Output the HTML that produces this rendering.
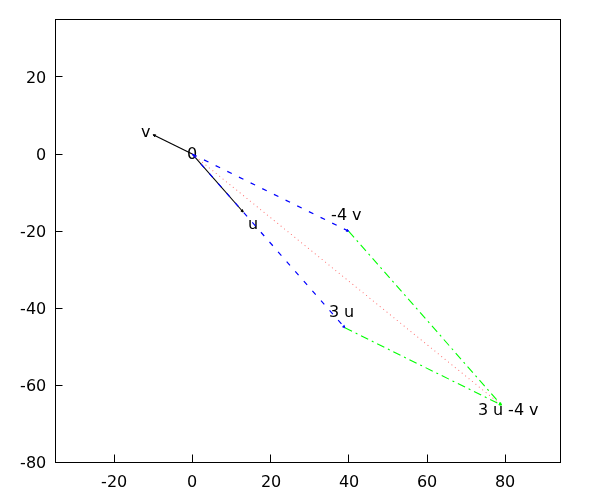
<!DOCTYPE html>
<html><head><meta charset="utf-8"><title>plot</title>
<style>
html,body{margin:0;padding:0;background:#fff;}
svg{display:block;}
text{font-family:"DejaVu Sans","Liberation Sans",sans-serif;font-size:16px;fill:#000;}
</style></head><body>
<svg width="600" height="500" viewBox="0 0 600 500">
<rect x="0" y="0" width="600" height="500" fill="#fff"/>
<rect x="55.5" y="19.5" width="505.0" height="443.0" fill="none" stroke="#000" stroke-width="1"/>
<line x1="114.5" y1="462.5" x2="114.5" y2="454.5" stroke="#000"/>
<text x="101.0 107.0 117.0" y="487">-20</text>
<line x1="192.5" y1="462.5" x2="192.5" y2="454.5" stroke="#000"/>
<text x="187.0" y="487">0</text>
<line x1="270.5" y1="462.5" x2="270.5" y2="454.5" stroke="#000"/>
<text x="261.0 271.0" y="487">20</text>
<line x1="348.5" y1="462.5" x2="348.5" y2="454.5" stroke="#000"/>
<text x="339.0 349.0" y="487">40</text>
<line x1="427.5" y1="462.5" x2="427.5" y2="454.5" stroke="#000"/>
<text x="417.0 427.0" y="487">60</text>
<line x1="505.5" y1="462.5" x2="505.5" y2="454.5" stroke="#000"/>
<text x="495.0 505.0" y="487">80</text>
<line x1="55.5" y1="76.5" x2="62.5" y2="76.5" stroke="#000"/>
<text x="26 36" y="83">20</text>
<line x1="55.5" y1="154.5" x2="62.5" y2="154.5" stroke="#000"/>
<text x="36" y="160">0</text>
<line x1="55.5" y1="231.5" x2="62.5" y2="231.5" stroke="#000"/>
<text x="20 26 36" y="237">-20</text>
<line x1="55.5" y1="308.5" x2="62.5" y2="308.5" stroke="#000"/>
<text x="20 26 36" y="314">-40</text>
<line x1="55.5" y1="385.5" x2="62.5" y2="385.5" stroke="#000"/>
<text x="20 26 36" y="391">-60</text>
<line x1="55.5" y1="462.5" x2="62.5" y2="462.5" stroke="#000"/>
<text x="20 26 36" y="468">-80</text>
<line x1="192.30" y1="154.10" x2="243.16" y2="212.00" stroke="#000" stroke-width="1.08"/>
<polygon points="243.16,212.00 240.88,211.07 242.53,209.62" fill="#000" stroke="#000" stroke-width="0.95" stroke-linejoin="miter"/>
<line x1="192.30" y1="154.10" x2="153.18" y2="134.80" stroke="#000" stroke-width="1.08"/>
<polygon points="153.18,134.80 155.64,134.79 154.67,136.76" fill="#000" stroke="#000" stroke-width="0.95" stroke-linejoin="miter"/>
<text x="187" y="159">0</text>
<text x="141" y="137">v</text>
<text x="248" y="229">u</text>
<text x="331 337 347 352" y="220">-4 v</text>
<text x="329 339 344" y="317">3 u</text>
<text x="478 488 493 503 508 514 524 529" y="415">3 u -4 v</text>
<line x1="192.30" y1="154.10" x2="501.35" y2="405.00" stroke="#f00" stroke-width="1.1" stroke-dasharray="0.01 4.39" stroke-linecap="round" stroke-opacity="0.55"/>
<line x1="192.30" y1="154.10" x2="344.87" y2="327.80" stroke="#00f" stroke-width="1.2" stroke-dasharray="5 8"/>
<polygon points="344.87,327.80 342.59,326.87 344.24,325.42" fill="#00f" stroke="#00f" stroke-width="0.95" stroke-linejoin="miter"/>
<line x1="192.30" y1="154.10" x2="348.78" y2="231.30" stroke="#00f" stroke-width="1.2" stroke-dasharray="5 8"/>
<polygon points="348.78,231.30 346.32,231.31 347.29,229.34" fill="#00f" stroke="#00f" stroke-width="0.95" stroke-linejoin="miter"/>
<line x1="344.87" y1="327.80" x2="501.35" y2="405.00" stroke="#0f0" stroke-width="1.1" stroke-dasharray="8 4 2 4"/>
<polygon points="501.35,405.00 498.89,405.01 499.86,403.04" fill="#0f0" stroke="#0f0" stroke-width="0.95" stroke-linejoin="miter"/>
<line x1="348.78" y1="231.30" x2="501.35" y2="405.00" stroke="#0f0" stroke-width="1.1" stroke-dasharray="8 4 2 4"/>
<polygon points="501.35,405.00 499.07,404.07 500.72,402.62" fill="#0f0" stroke="#0f0" stroke-width="0.95" stroke-linejoin="miter"/>
</svg>
</body></html>
